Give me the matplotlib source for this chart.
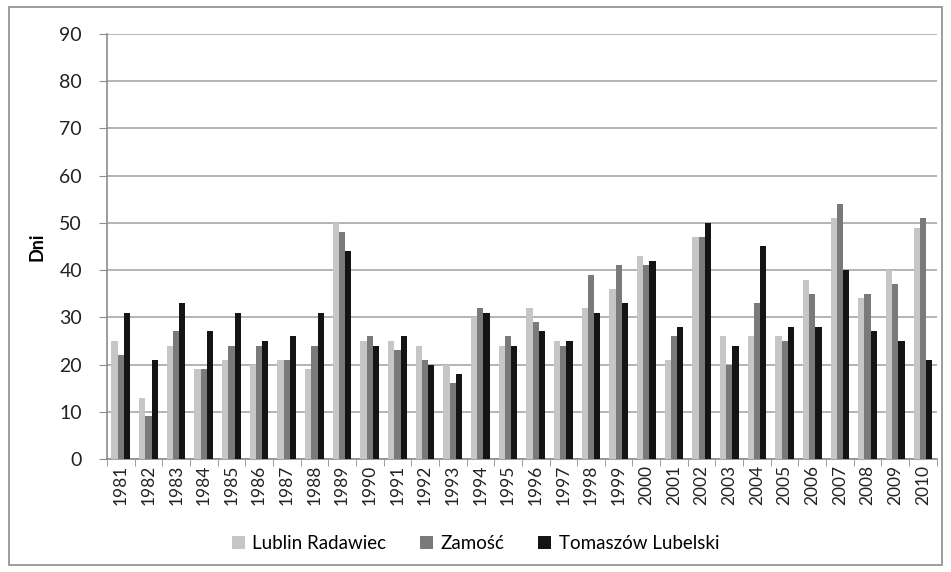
import numpy as np
import matplotlib.pyplot as plt
from matplotlib.patches import Rectangle

plt.rcParams['font.family'] = ['Lato', 'DejaVu Sans']

years = [str(y) for y in range(1981, 2011)]
lublin = [25, 13, 24, 19, 21, 20, 21, 19, 50, 25, 25, 24, 20, 30, 24, 32, 25, 32, 36, 43,
          21, 47, 26, 26, 26, 38, 51, 34, 40, 49]
zamosc = [22, 9, 27, 19, 24, 24, 21, 24, 48, 26, 23, 21, 16, 32, 26, 29, 24, 39, 41, 41,
          26, 47, 20, 33, 25, 35, 54, 35, 37, 51]
tomaszow = [31, 21, 33, 27, 31, 25, 26, 31, 44, 24, 26, 20, 18, 31, 24, 27, 25, 31, 33, 42,
            28, 50, 24, 45, 28, 28, 40, 27, 25, 21]
series_names = ['Lublin Radawiec', 'Zamość', 'Tomaszów Lubelski']
colors = ['#c6c6c6', '#7a7a7a', '#141414']

fig = plt.figure(figsize=(9.51, 5.72), dpi=100)
# outer chart border
fig.patches.append(Rectangle((0.009, 0.012), 0.982, 0.976, transform=fig.transFigure,
                             fill=False, edgecolor='#8c8c8c', linewidth=1.2))
ax = fig.add_axes([0.1125, 0.1976, 0.8725, 0.743])

x = np.arange(len(years))
w = 0.225
for i, vals in enumerate([lublin, zamosc, tomaszow]):
    ax.bar(x + (i - 1) * w, vals, width=w, color=colors[i], label=series_names[i], zorder=3)

ax.set_xlim(-0.5, len(years) - 0.5)
ax.set_ylim(0, 90)
ax.set_yticks(range(0, 91, 10))
ax.yaxis.grid(True, color='#a8a8a8', linewidth=1.2, zorder=0)
ax.set_axisbelow(True)

ax.set_xticks(x)
ax.set_xticklabels(years, rotation=90, fontsize=12.5, color='#222222')
ax.set_xticks(np.arange(-0.5, len(years), 1), minor=True)
ax.tick_params(axis='x', which='major', length=0, pad=4)
ax.tick_params(axis='x', which='minor', length=5, color='#8c8c8c', direction='out')
ax.tick_params(axis='y', length=6, color='#8c8c8c', labelsize=14, labelcolor='#222222', pad=12)

for s in ['top', 'right']:
    ax.spines[s].set_visible(False)
ax.spines['left'].set_color('#8c8c8c')
ax.spines['bottom'].set_color('#8c8c8c')
ax.spines['left'].set_linewidth(1.2)
ax.spines['bottom'].set_linewidth(1.2)

ax.set_ylabel('Dni', fontsize=13, fontweight='bold', labelpad=10)

fig.legend(loc='lower center', bbox_to_anchor=(0.5, 0.005), ncol=3, frameon=False,
           fontsize=13.5, handlelength=0.7, handleheight=0.7, handletextpad=0.4,
           columnspacing=1.8)

fig.savefig('out.png', dpi=100)
